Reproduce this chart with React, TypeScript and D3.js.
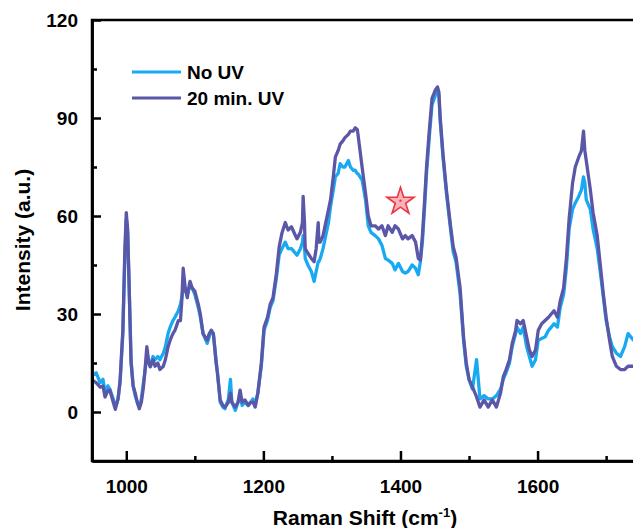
import * as d3 from "d3";
import React, { useEffect, useRef } from "react";

// Raman shift grid (cm-1) shared by both spectra
const shifts = [
  950, 956, 962, 966, 969, 973, 976, 981, 984, 988, 991, 995, 998, 1000, 1002, 1004, 1007, 1010,
  1013, 1016, 1019, 1022, 1025, 1027, 1030, 1033, 1035, 1039, 1042, 1046, 1049, 1054, 1057, 1061,
  1064, 1068, 1071, 1076, 1079, 1081, 1083, 1086, 1089, 1092, 1093, 1096, 1100, 1105, 1108, 1112,
  1118, 1121, 1124, 1127, 1128, 1131, 1133, 1137, 1141, 1144, 1149, 1152, 1154, 1159, 1163, 1166,
  1169, 1173, 1178, 1181, 1185, 1188, 1192, 1197, 1201, 1206, 1210, 1214, 1219, 1223, 1227, 1232,
  1236, 1241, 1245, 1249, 1254, 1257, 1258, 1260, 1261, 1265, 1270, 1274, 1277, 1280, 1281, 1283,
  1287, 1290, 1295, 1298, 1302, 1305, 1309, 1312, 1316, 1319, 1324, 1327, 1331, 1334, 1337, 1338,
  1341, 1344, 1349, 1353, 1357, 1363, 1368, 1373, 1378, 1382, 1388, 1392, 1397, 1403, 1407, 1411,
  1417, 1422, 1426, 1429, 1432, 1435, 1438, 1442, 1446, 1451, 1454, 1456, 1458, 1462, 1467, 1473,
  1477, 1481, 1487, 1492, 1496, 1500, 1505, 1511, 1516, 1522, 1528, 1534, 1540, 1546, 1550, 1554,
  1559, 1563, 1568, 1570, 1575, 1579, 1584, 1588, 1592, 1597, 1601, 1606, 1611, 1616, 1620, 1624,
  1629, 1633, 1638, 1642, 1646, 1651, 1655, 1660, 1664, 1667, 1669, 1671, 1677, 1681, 1687, 1692,
  1696, 1700, 1705, 1709, 1715, 1721, 1727, 1732, 1740, 1750,
];

const noUV = [
  11, 12, 9, 10, 6, 8, 7, 4, 1.5, 4, 9, 24, 48, 59, 55, 40, 16, 8,
  5, 3, 1.5, 4, 9, 12, 17, 15, 14, 17, 16, 17, 16, 18, 20, 24,
  26, 28, 29, 31, 33, 35, 38, 37, 36, 38, 39, 38, 36, 32, 29, 24,
  21, 23, 25, 24, 22, 16, 12, 3, 1.5, 1, 4, 10, 3, 0.5, 3, 5,
  2, 3, 2, 3, 4, 2, 6, 14, 25, 28, 32, 34, 41, 48, 50, 52,
  50, 50, 49, 48, 50, 52, 54, 51, 47, 45, 43, 40, 43, 46, 46, 47,
  50, 53, 58, 63, 68, 72, 73, 76, 75, 75, 77, 75, 74, 74, 73, 73,
  72, 71, 65, 57, 55, 54, 53, 51, 47, 46.5, 45.5, 43.5, 45.5, 43, 42.5, 43,
  45, 44, 42, 46, 52, 62, 73, 84, 94, 97, 98.5, 97, 89, 78, 67, 56,
  49, 46, 36, 22, 14, 10, 7, 16, 4, 5, 4, 4, 5, 7, 10, 12,
  15, 20, 24, 26, 24, 26, 20, 17, 14, 16, 22, 22.5, 23, 25, 26, 27,
  26, 32, 36, 44, 56, 62, 64, 66, 68, 72, 70, 65, 62, 56, 50, 42,
  35, 28, 23, 20, 18, 17, 20, 24, 22, 21,
];

const uv20 = [
  9.8, 9, 7.6, 8, 4.6, 6.5, 6.7, 3, 0.8, 4, 9.8, 25, 50, 61, 56, 40, 15, 8,
  5.8, 3, 1, 3, 7.6, 12, 20, 15, 13.8, 16, 14, 15, 13, 14, 16, 20,
  22, 24, 25, 28, 28, 34, 44, 38, 35, 39, 40, 38, 37, 33, 30, 24,
  22, 24, 25, 24, 22, 15, 12, 3.7, 2, 1.5, 3, 5.8, 3, 1.5, 3, 6.7,
  3, 3.7, 2, 2.8, 3, 1.5, 5.8, 15, 26, 29, 33, 35, 42.5, 50.5, 54.7, 58,
  55.7, 56.7, 54.8, 53, 55, 58, 66, 58, 50, 48.6, 47, 46, 50, 58, 52, 52,
  54, 57, 62, 65, 72, 78, 80, 82, 83, 84, 85, 86, 86, 87, 86.5, 85,
  80, 75, 67, 60, 57, 57, 56, 57, 54, 57, 55, 57, 56, 53, 54, 53,
  54, 52, 47, 46.5, 54, 64, 75, 86, 96, 98.6, 99.5, 98, 90, 79, 68, 57,
  50.5, 47.5, 38, 23, 15, 10, 7.7, 4.6, 1.5, 3.7, 1.5, 3.7, 1.5, 5.8, 10.8, 12.9,
  16, 21, 25, 28, 27, 28, 23, 19, 17, 19, 25, 27, 28, 29, 30, 31,
  29, 34, 38, 47, 59, 70, 75, 78, 80, 86, 80, 77, 68, 61, 54, 44,
  36, 29, 22, 17, 14, 13, 13, 14, 14, 13,
];

const seriesNames = ["No UV", "20 min. UV"];
const seriesColors = ["#17a9f2", "#5b57a8"];
const yMajor = [0, 30, 60, 90, 120];
const yMinor = [15, 45, 75, 105];
const xMajor = [1000, 1200, 1400, 1600];
const xMinor = [1100, 1300, 1500, 1700];
const starMark = [1400, 65];

export default function App() {
  const ref = useRef<SVGSVGElement>(null);

  useEffect(() => {
    const width = 633;
    const height = 528;
    const left = 92;
    const top = 20;
    const bottom = 461;
    const right = left + 850 * 0.6855;
    const font = "'Liberation Sans', Arial, sans-serif";

    const svg = d3.select(ref.current);
    svg.selectAll("*").remove();
    svg.attr("width", width).attr("height", height);

    const x = d3.scaleLinear().domain([950, 1800]).range([left, right]);
    const y = d3.scaleLinear().domain([-15, 120]).range([bottom, top]);

    svg
      .append("clipPath")
      .attr("id", "plot-clip")
      .append("rect")
      .attr("x", left)
      .attr("y", top)
      .attr("width", right - left)
      .attr("height", bottom - top);

    const line = d3
      .line<number>()
      .x((_, i) => x(shifts[i]))
      .y((d) => y(d));

    const lines = svg.append("g").attr("clip-path", "url(#plot-clip)");
    [noUV, uv20].forEach((vals, i) => {
      lines
        .append("path")
        .datum(vals)
        .attr("d", line)
        .attr("fill", "none")
        .attr("stroke", seriesColors[i])
        .attr("stroke-width", 3.3)
        .attr("stroke-linejoin", "round");
    });

    // star marker
    const star = d3.symbol().type(d3.symbolStar).size(230);
    svg
      .append("path")
      .attr("d", star())
      .attr("transform", `translate(${x(starMark[0])},${y(starMark[1]) + 2})`)
      .attr("fill", "#f7b3ba")
      .attr("stroke", "#ec3540")
      .attr("stroke-width", 1.6);
    svg
      .append("circle")
      .attr("cx", x(starMark[0]))
      .attr("cy", y(starMark[1]) + 1)
      .attr("r", 1.2)
      .attr("fill", "#ec3540");

    // frame
    svg
      .append("rect")
      .attr("x", left)
      .attr("y", top)
      .attr("width", right - left)
      .attr("height", bottom - top)
      .attr("fill", "none")
      .attr("stroke", "black")
      .attr("stroke-width", 2.5);

    const fmt = d3.format("d");
    const yAxis = svg
      .append("g")
      .attr("transform", `translate(${left},0)`)
      .call(
        d3.axisLeft(y).tickValues(yMajor).tickFormat(fmt).tickSizeInner(-9).tickSizeOuter(0).tickPadding(14)
      );
    const yMinorAxis = svg
      .append("g")
      .attr("transform", `translate(${left},0)`)
      .call(d3.axisLeft(y).tickValues(yMinor).tickSizeInner(-5).tickSizeOuter(0).tickFormat(() => ""));

    const xAxis = svg
      .append("g")
      .attr("transform", `translate(0,${bottom})`)
      .call(
        d3.axisBottom(x).tickValues(xMajor).tickFormat(fmt).tickSizeInner(-10).tickSizeOuter(0).tickPadding(19)
      );
    const xMinorAxis = svg
      .append("g")
      .attr("transform", `translate(0,${bottom})`)
      .call(d3.axisBottom(x).tickValues(xMinor).tickSizeInner(-5).tickSizeOuter(0).tickFormat(() => ""));

    [yAxis, yMinorAxis, xAxis, xMinorAxis].forEach((g) => {
      g.select(".domain").attr("stroke-width", 2.5);
      g.selectAll(".tick line").attr("stroke-width", 2.5);
      g.selectAll("text")
        .attr("font-family", font)
        .attr("font-weight", "bold")
        .attr("font-size", 19)
        .attr("fill", "black");
    });

    // axis titles
    const xTitle = svg
      .append("text")
      .attr("x", 365)
      .attr("y", 525)
      .attr("text-anchor", "middle")
      .attr("font-family", font)
      .attr("font-weight", "bold")
      .attr("font-size", 21);
    xTitle.append("tspan").text("Raman Shift (cm");
    xTitle.append("tspan").text("-1").attr("font-size", 13).attr("dy", -8);
    xTitle.append("tspan").text(")").attr("dy", 8);

    svg
      .append("text")
      .attr("transform", `translate(30,240) rotate(-90)`)
      .attr("text-anchor", "middle")
      .attr("font-family", font)
      .attr("font-weight", "bold")
      .attr("font-size", 21)
      .text("Intensity (a.u.)");

    // legend
    const legend = svg.append("g").attr("transform", "translate(132,72)");
    seriesNames.forEach((name, i) => {
      const row = legend.append("g").attr("transform", `translate(0,${i * 26})`);
      row
        .append("line")
        .attr("x1", 0)
        .attr("x2", 49)
        .attr("stroke", seriesColors[i])
        .attr("stroke-width", 3);
      row
        .append("text")
        .attr("x", 55)
        .attr("y", 7)
        .attr("font-family", font)
        .attr("font-weight", "bold")
        .attr("font-size", 19)
        .text(name);
    });
  }, []);

  return <svg ref={ref} style={{ position: "absolute", left: 0, top: 0 }}></svg>;
}
